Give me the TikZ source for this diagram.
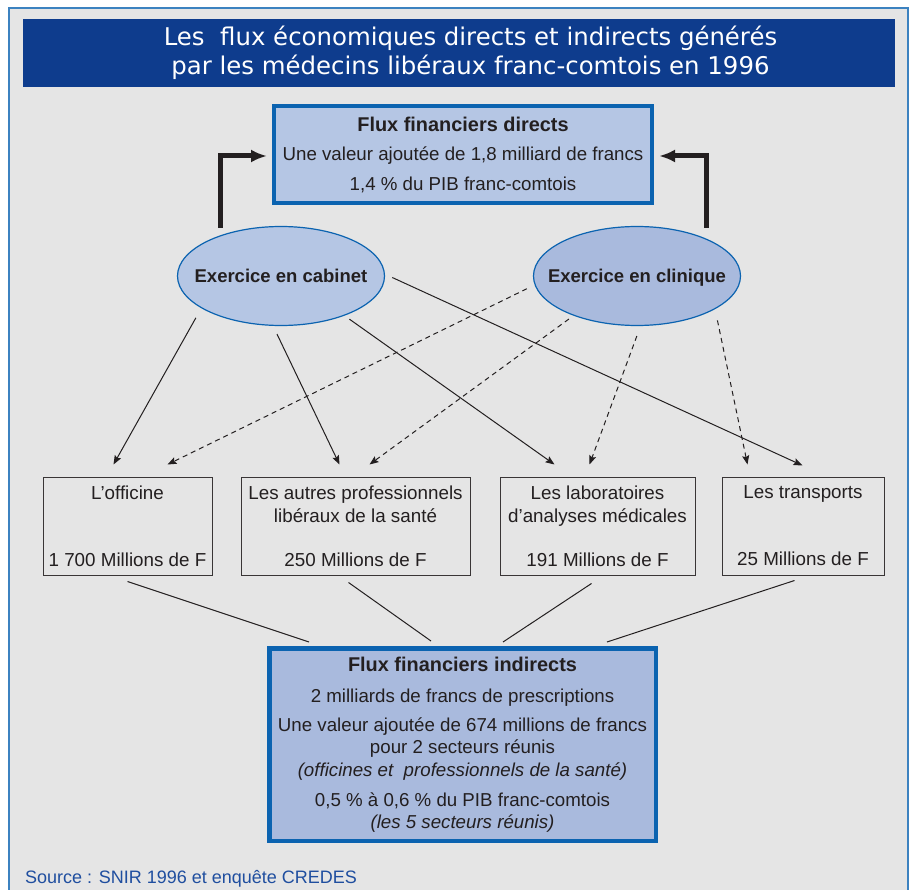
\documentclass[tikz,border=0pt]{standalone}
\usepackage{fontspec}
\setmainfont{Liberation Sans}
\newfontfamily\titlefont{DejaVu Sans}
\usetikzlibrary{shapes.geometric,arrows.meta,calc}
\definecolor{bg}{HTML}{E5E5E5}
\definecolor{band}{HTML}{0E3C8D}
\definecolor{bblue}{HTML}{0B63B0}
\definecolor{lightfill}{HTML}{B5C6E4}
\definecolor{darkfill}{HTML}{A9BADD}
\definecolor{ink}{HTML}{231F20}
\definecolor{src}{HTML}{1F4E9F}
\begin{document}
\begin{tikzpicture}[x=1pt,y=1pt,
  bigbox/.style={rectangle,draw=bblue,align=center,text=ink,inner sep=0pt,
    font=\fontsize{18.7}{29.5}\selectfont},
  ell/.style={ellipse,draw=bblue,line width=1.2pt,minimum width=207,minimum height=99,
    inner sep=0pt,text=ink,font=\fontsize{18.5}{22}\selectfont\bfseries},
  sbox/.style={rectangle,draw=ink!90,line width=1pt,minimum height=98,inner sep=0pt,
    align=center,text=ink,font=\fontsize{18.8}{23}\selectfont},
  flow/.style={draw=ink,line width=1pt,-{Stealth[length=9pt,width=7pt,inset=1.5pt]}},
  dflow/.style={flow,dash pattern=on 5pt off 4pt},
  link/.style={draw=ink,line width=1pt},
  elbow/.style={draw=ink,line width=5pt,-{Latex[length=16pt,width=13pt]}}]
\useasboundingbox (0,0) rectangle (912,-890);
% frame
\fill[white] (0,0) rectangle (912,-890);
\draw[fill=bg,draw=bblue!80,line width=1.2pt] (9,-8) rectangle (908,-900);
% title band
\node[rectangle,fill=band,minimum width=872,minimum height=68,inner sep=0pt] (band) at (459,-53) {};
\node[text=white,align=center,inner sep=0pt,font=\titlefont\fontsize{24.4}{29}\selectfont]
  (title) at (470.5,-53) {Les\ \ flux économiques directs et indirects générés\\par les médecins libéraux franc-comtois en 1996};
% direct flows box
\node[bigbox,fill=lightfill,line width=4pt,minimum width=378,minimum height=97] (dir) at (463,-154.5)
  {{\fontsize{19.9}{29.5}\selectfont\bfseries Flux financiers directs}\\Une valeur ajoutée de 1,8 milliard de francs\\1,4 \% du PIB franc-comtois};
% ellipses
\node[ell,fill=lightfill] (cab) at (281,-276) {\makebox[0pt]{\raisebox{0pt}[\height][0pt]{Exercice en cabinet}}};
\node[ell,fill=darkfill] (cli) at (637,-276) {\makebox[0pt]{\raisebox{0pt}[\height][0pt]{Exercice en clinique}}};
% elbow arrows
\draw[elbow] ($(cab.north)+(-61,-2)$) |- ($(dir.west)+(-5,-1.5)$);
\draw[elbow] ($(cli.north)+(69,-2)$) |- ($(dir.east)+(5,-1.5)$);
% sector boxes
\node[sbox,minimum width=169] (off) at (127.5,-526) {L'officine\\[44pt]1 700 Millions de F};
\node[sbox,minimum width=229] (aut) at (355.5,-526) {Les autres professionnels\\libéraux de la santé\\[21pt]250 Millions de F};
\node[sbox,minimum width=195] (lab) at (597.5,-526) {Les laboratoires\\d'analyses médicales\\[21pt]191 Millions de F};
\node[sbox,minimum width=162] (tra) at (803,-526) {Les transports\\[44pt]25 Millions de F};
% arrows from cabinet
\draw[flow,shorten <=11pt] (cab.202) -- ($(off.north west)+(71,12)$);
\draw[flow,shorten <=9pt] (cab.261) -- ($(aut.north west)+(99,12)$);
\draw[flow,shorten <=6pt] (cab.328) -- ($(lab.north west)+(55,12)$);
\draw[flow,shorten <=8pt] (cab.1.8) -- ($(tra.north west)+(81,11)$);
% dashed arrows from clinique
\draw[dflow,shorten <=8.6pt] (cli.185) -- ($(off.north west)+(125,12)$);
\draw[dflow,shorten <=5.7pt] (cli.212) -- ($(aut.north west)+(129,12)$);
\draw[dflow,shorten <=10.6pt] (cli.274) -- ($(lab.north west)+(90,12)$);
\draw[dflow,shorten <=11.5pt] (cli.337.4) -- ($(tra.north west)+(26,12)$);
% indirect flows box
\node[bigbox,fill=darkfill,line width=4.5pt,minimum width=386.5,minimum height=192.5,
  font=\fontsize{18.7}{22.5}\selectfont] (ind) at (462.5,-744.5)
  {{\fontsize{19.9}{22.5}\selectfont\bfseries Flux financiers indirects}\\[9pt]
   2 milliards de francs de prescriptions\\[6pt]
   Une valeur ajoutée de 674 millions de francs\\
   pour 2 secteurs réunis\\
   \textit{(officines et\ \ professionnels de la santé)}\\[7.5pt]
   0,5 \% à 0,6 \% du PIB franc-comtois\\
   \textit{(les 5 secteurs réunis)}};
% links to indirect box
\draw[link] ($(off.south west)+(85,-6)$) -- ($(ind.north west)+(42,4)$);
\draw[link] ($(aut.south west)+(108,-7)$) -- ($(ind.north west)+(164,5)$);
\draw[link] ($(lab.south west)+(92,-8)$) -- ($(ind.north west)+(236,4)$);
\draw[link] ($(tra.south west)+(73,-5)$) -- ($(ind.north west)+(340,4)$);
% source
\node[anchor=base west,inner sep=0pt,text=src,font=\fontsize{18}{20}\selectfont] (source) at (25,-883.5)
  {Source : SNIR 1996 et enquête CREDES};
\end{tikzpicture}
\end{document}
